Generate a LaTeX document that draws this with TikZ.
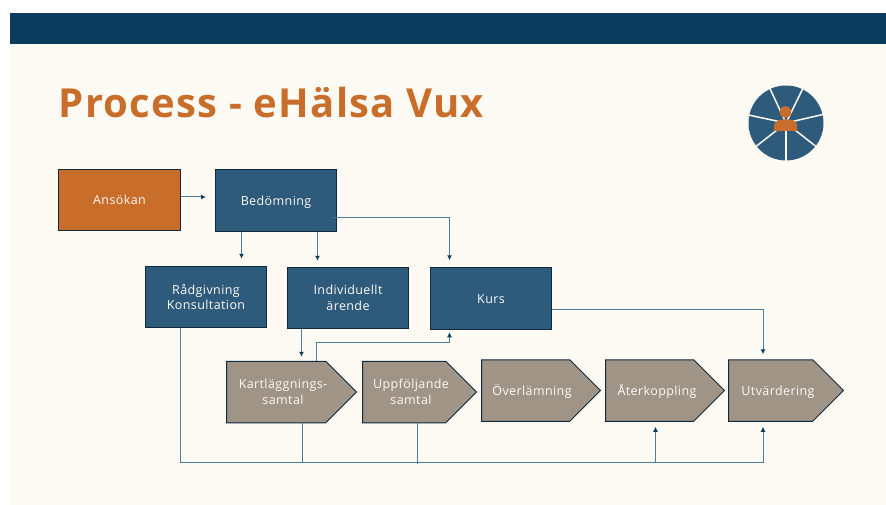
\documentclass[tikz,border=0pt]{standalone}
\usepackage{fontspec}
\usepackage{tikz}
\usetikzlibrary{shapes.symbols,arrows.meta}
\setmainfont{Open Sans}[LetterSpace=3.2]
\definecolor{slidebg}{HTML}{FDFAF4}
\definecolor{headblue}{HTML}{0B3C5D}
\definecolor{boxblue}{HTML}{2E5A7B}
\definecolor{boxorange}{HTML}{C96D2A}
\definecolor{boxgrey}{HTML}{A09487}
\definecolor{edgedark}{HTML}{10293D}
\definecolor{connblue}{HTML}{4F7C9A}
\definecolor{tipblue}{HTML}{0B3C5D}
\tikzset{
	bluebox/.style = {draw = edgedark, line width = 1pt, fill = boxblue, text = slidebg, font = \fontsize{12.5}{15.5}\selectfont, align = center, minimum width = 121pt, minimum height = 61.5pt, inner sep = 0pt},
	orangebox/.style = {bluebox, fill = boxorange, minimum width = 122pt},
	stepsignal/.style = {draw = edgedark, line width = 1pt, fill = boxgrey, shape = signal, signal to = east, signal pointer angle = 90, minimum height = 61.5pt, inner sep = 0pt, anchor = west},
	steptext/.style = {text = slidebg, font = \fontsize{12.5}{15.5}\selectfont, align = center, inner sep = 0pt},
	oneline/.style = {text height = 11.5pt, text depth = 1.5pt},
	conn/.style = {draw = connblue, line width = 1pt, -{Latex[length = 5pt, width = 5pt, color = tipblue]}},
	plainconn/.style = {draw = connblue, line width = 1pt},
	spoke/.style = {draw = slidebg, line width = 1.5pt}
}
\begin{document}
\begin{tikzpicture}[x = 1pt, y = -1pt]
	\useasboundingbox (0,0) rectangle (886,505);
	\fill[white] (0,0) rectangle (886,505);
	\fill[slidebg] (10,13) rectangle (886,505);
	\fill[headblue] (10,13) rectangle (886,44);
	\node[anchor = base west, inner sep = 0pt, text = boxorange, font = \fontsize{40}{44}\selectfont\bfseries] (title) at (58.5,118) {Process - eHälsa Vux};

	\fill[boxblue] (786,123) circle (37.5);
	\foreach \a in {90, 38, -13, -64, -115, 192, 142}
		\draw[spoke] (786,123) -- ++(\a:38.5);
	\fill[boxorange] (785.5,112) circle (5.8);
	\fill[boxorange] (774,131) -- (774,125) .. controls (775,121) and (779,120) .. (782,119.5) -- (789,119.5) .. controls (793,120) and (796,121) .. (797,125) -- (797,131) -- cycle;

	\node[orangebox, oneline] (ansokan) at (119.5,200) {Ansökan};
	\node[bluebox, oneline] (bedomning) at (276,200.5) {Bedömning};
	\node[bluebox] (radgivning) at (206,297) {Rådgivning\\Konsultation};
	\node[bluebox] (individuellt) at (348,298) {Individuellt\\ärende};
	\node[bluebox, oneline] (kurs) at (491,298.5) {Kurs};
	\node[stepsignal, minimum width = 130pt] (kartlaggning) at (226,392) {};
	\node[stepsignal, minimum width = 114pt] (uppfoljande) at (362,392) {};
	\node[stepsignal, minimum width = 119pt] (overlamning) at (481,390.5) {};
	\node[stepsignal, minimum width = 119pt] (aterkoppling) at (605,390.5) {};
	\node[stepsignal, minimum width = 115pt] (utvardering) at (728,390.5) {};
	\node[steptext] (kartlaggningtext) at ([xshift = 57pt]kartlaggning.west) {Kartläggnings-\\samtal};
	\node[steptext] (uppfoljandetext) at ([xshift = 49pt]uppfoljande.west) {Uppföljande\\samtal};
	\node[steptext, oneline] (overlamningtext) at ([xshift = 51pt]overlamning.west) {Överlämning};
	\node[steptext, oneline] (aterkopplingtext) at ([xshift = 52pt]aterkoppling.west) {Återkoppling};
	\node[steptext, oneline] (utvarderingtext) at ([xshift = 50pt]utvardering.west) {Utvärdering};
	\coordinate (bottomleft) at (180,462);
	\coordinate (bottomright) at (763,462);

	\draw[conn, shorten > = 9pt] ([yshift = 3pt]ansokan.east) -- ([yshift = 3pt]ansokan.east -| bedomning.west);
	\draw[conn, shorten > = 7pt] (bedomning.south -| 241.5,0) -- (241.5,0 |- radgivning.north);
	\draw[conn, shorten > = 6pt] (bedomning.south -| 317.5,0) -- (317.5,0 |- individuellt.north);
	\draw[conn, shorten > = 7pt] (333,218) -- (449.5,218) -- (449.5,0 |- kurs.north);
	\draw[conn, shorten > = 4pt] (301.5,0 |- individuellt.south) -- (301.5,0 |- kartlaggning.north);
	\draw[conn, shorten > = 2.5pt] (316.5,0 |- kartlaggning.north) -- (316.5,342.5) -- (449.5,342.5) -- (449.5,0 |- kurs.south);
	\draw[conn, shorten > = 5pt] (kurs.east |- 0,309) -- (763,309) -- (763,0 |- utvardering.north);
	\draw[conn, shorten > = 5pt] (180,0 |- radgivning.south) -- (bottomleft) -- (bottomright) -- (763,0 |- utvardering.south);
	\draw[conn, shorten > = 5pt] (655.5,462) -- (655.5,0 |- aterkoppling.south);
	\draw[plainconn] (302.5,0 |- kartlaggning.south) -- (302.5,462);
	\draw[plainconn] (417.5,0 |- uppfoljande.south) -- (417.5,463.5);
\end{tikzpicture}
\end{document}
